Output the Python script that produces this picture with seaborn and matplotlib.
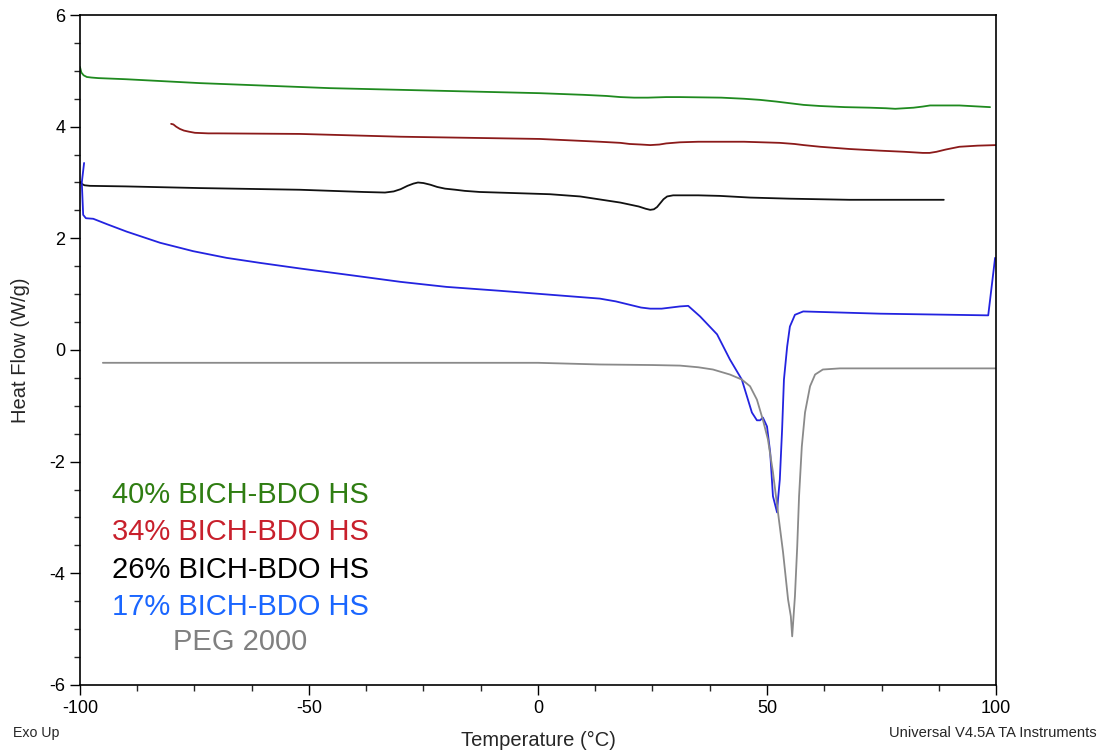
import matplotlib
matplotlib.use("Agg")
import matplotlib.pyplot as plt
from matplotlib.ticker import MultipleLocator
import seaborn as sns
import pandas as pd

# DSC heat-flow traces (temperature in °C, heat flow in W/g)
t_40 = [-100.0, -99.7, -99.2, -98.5, -97.5, -96.0, -90.0, -73.8, -45.4, -20.0, 0.4, 10.0,
        15.0, 18.0, 21.0, 24.0, 28.0, 31.0, 40.0, 45.0, 48.5, 52.0, 55.0, 58.0, 61.6, 67.0,
        72.5, 76.0, 78.0, 80.0, 82.0, 84.0, 85.6, 88.0, 92.0, 98.7]
h_40 = [5.07, 4.97, 4.92, 4.89, 4.88, 4.87, 4.85, 4.78, 4.69, 4.64, 4.60, 4.57,
        4.55, 4.53, 4.52, 4.52, 4.53, 4.53, 4.52, 4.50, 4.48, 4.45, 4.42, 4.39, 4.37, 4.35,
        4.34, 4.33, 4.32, 4.33, 4.34, 4.36, 4.38, 4.38, 4.38, 4.35]

t_34 = [-80.1, -79.6, -79.0, -78.2, -77.3, -76.2, -74.9, -72.0, -70.0, -52.0, -30.0, 0.4,
        13.5, 18.0, 20.0, 22.5, 24.5, 26.5, 28.0, 31.0, 35.0, 45.0, 52.8, 56.0, 58.0, 61.6,
        68.0, 74.7, 80.0, 84.0, 85.5, 87.0, 89.0, 92.0, 96.0, 100.0]
h_34 = [4.05, 4.04, 4.00, 3.96, 3.93, 3.91, 3.89, 3.88, 3.88, 3.87, 3.82, 3.78,
        3.73, 3.71, 3.69, 3.68, 3.67, 3.68, 3.70, 3.72, 3.73, 3.73, 3.71, 3.69, 3.67, 3.64,
        3.60, 3.57, 3.55, 3.53, 3.53, 3.55, 3.59, 3.64, 3.66, 3.67]

t_26 = [-100.0, -99.5, -99.0, -97.8, -90.0, -73.8, -52.0, -38.0, -33.4, -31.5, -30.0, -28.5,
        -27.2, -26.2, -25.0, -23.5, -22.0, -20.3, -18.0, -16.0, -12.7, -5.0, 2.6, 9.2, 14.0,
        18.0, 22.0, 23.5, 24.5, 25.3, 26.0, 26.7, 27.4, 28.2, 29.5, 35.0, 39.7, 46.3, 55.0,
        68.0, 80.0, 88.6]
h_26 = [3.01, 2.97, 2.95, 2.94, 2.93, 2.90, 2.87, 2.83, 2.82, 2.84, 2.88, 2.94,
        2.98, 3.00, 2.99, 2.96, 2.92, 2.89, 2.87, 2.85, 2.83, 2.81, 2.79, 2.75, 2.69,
        2.64, 2.57, 2.53, 2.51, 2.52, 2.56, 2.63, 2.70, 2.75, 2.77, 2.77, 2.76, 2.73, 2.71,
        2.69, 2.69, 2.69]

t_17 = [-99.1, -99.6, -99.3, -98.7, -97.1, -94.0, -89.8, -82.5, -75.3, -68.0, -60.7, -52.0,
        -40.0, -30.0, -20.0, -8.3, 2.6, 13.5, 17.0, 20.0, 22.5, 24.5, 27.0, 31.0, 32.8, 35.4,
        39.1, 41.9, 44.5, 46.7, 47.8, 48.5, 49.1, 50.0, 50.7, 51.3, 52.2, 52.4, 52.8, 53.3,
        53.7, 54.4, 55.0, 56.1, 57.9, 74.7, 98.3, 99.8]
h_17 = [3.35, 3.00, 2.42, 2.36, 2.35, 2.25, 2.12, 1.92, 1.77, 1.65, 1.56, 1.46,
        1.33, 1.22, 1.13, 1.06, 0.99, 0.92, 0.87, 0.81, 0.76, 0.74, 0.74, 0.78, 0.79, 0.60,
        0.28, -0.17, -0.53, -1.12, -1.26, -1.26, -1.21, -1.37, -1.84, -2.62, -2.91, -2.68,
        -2.32, -1.42, -0.53, 0.06, 0.42, 0.63, 0.69, 0.65, 0.62, 1.65]

t_peg = [-95.0, -60.0, -30.0, 0.0, 13.5, 25.0, 31.0, 35.0, 38.2, 41.9, 44.5, 46.3, 47.8,
         49.1, 50.2, 51.3, 52.4, 53.5, 54.6, 55.2, 55.5, 56.1, 56.6, 57.0, 57.6, 58.3, 59.4,
         60.5, 62.2, 65.9, 100.0]
h_peg = [-0.23, -0.23, -0.23, -0.23, -0.26, -0.27, -0.28, -0.31, -0.35, -0.44, -0.53,
         -0.65, -0.89, -1.25, -1.60, -2.19, -2.91, -3.62, -4.47, -4.77, -5.13, -4.41, -3.52,
         -2.62, -1.73, -1.12, -0.65, -0.44, -0.35, -0.33, -0.33]

labels = ["40% BICH-BDO HS", "34% BICH-BDO HS", "26% BICH-BDO HS", "17% BICH-BDO HS", "PEG 2000"]
line_colors = ["#1f8a1f", "#8b1a1a", "#111111", "#2323e0", "#8a8a8a"]
text_colors = ["#2f7d12", "#c8202c", "#000000", "#1a66ff", "#808080"]
traces = [(t_40, h_40), (t_34, h_34), (t_26, h_26), (t_17, h_17), (t_peg, h_peg)]

sns.set_style("ticks")
plt.rcParams["font.family"] = ["Liberation Sans", "DejaVu Sans"]
plt.rcParams["axes.unicode_minus"] = False

fig = plt.figure(figsize=(11.03, 7.51), dpi=100)
ax = fig.add_axes([0.0725, 0.088, 0.8305, 0.892])

for (t, h), col in zip(traces, line_colors):
    df = pd.DataFrame({"Temperature": t, "HeatFlow": h})
    sns.lineplot(data=df, x="Temperature", y="HeatFlow", sort=False, estimator=None,
                 color=col, linewidth=1.3, ax=ax)

ax.set_xlim(-100, 100)
ax.set_ylim(-6, 6)
ax.xaxis.set_major_locator(MultipleLocator(50))
ax.xaxis.set_minor_locator(MultipleLocator(12.5))
ax.yaxis.set_major_locator(MultipleLocator(2))
ax.yaxis.set_minor_locator(MultipleLocator(0.5))
ax.tick_params(which="major", direction="out", length=7, width=1, labelsize=13, colors="black")
ax.tick_params(which="minor", direction="out", length=4, width=1)
ax.tick_params(axis="x", pad=4)
for side in ["top", "right", "bottom", "left"]:
    ax.spines[side].set_visible(True)
    ax.spines[side].set_color("black")
    ax.spines[side].set_linewidth(1.2)

ax.set_xlabel("Temperature (°C)", fontsize=14.5, labelpad=10)
ax.set_ylabel("Heat Flow (W/g)", fontsize=14.5, labelpad=14)
if ax.get_legend() is not None:
    ax.get_legend().remove()

# sample labels stacked in the lower-left corner
label_y = [-2.60, -3.26, -3.94, -4.60, -5.23]
for lab, col, yv in zip(labels, text_colors, label_y):
    ax.text(-65.0, yv, lab, color=col, fontsize=21, ha="center", va="center")

fig.text(0.012, 0.024, "Exo Up", fontsize=10.2, ha="left", va="center")
fig.text(0.994, 0.024, "Universal V4.5A TA Instruments", fontsize=10.6, ha="right", va="center")

fig.savefig("out.png", dpi=100)
